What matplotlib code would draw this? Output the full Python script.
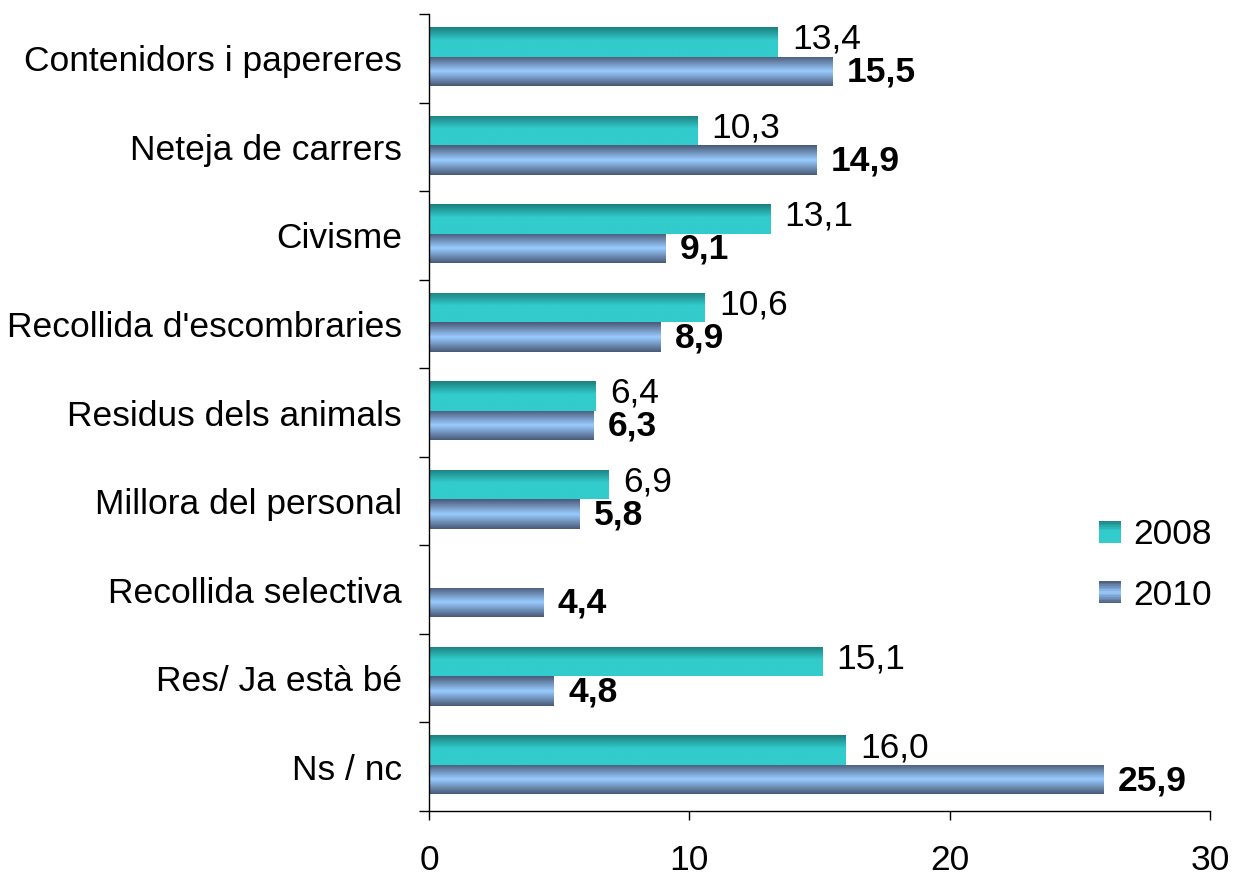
import numpy as np
import matplotlib
matplotlib.use("Agg")
import matplotlib.pyplot as plt
from matplotlib.colors import LinearSegmentedColormap
from matplotlib.patches import Rectangle
from matplotlib.legend_handler import HandlerBase

categories = ["Contenidors i papereres", "Neteja de carrers", "Civisme",
              "Recollida d'escombraries", "Residus dels animals",
              "Millora del personal", "Recollida selectiva",
              "Res/ Ja està bé", "Ns / nc"]
v2008 = [13.4, 10.3, 13.1, 10.6, 6.4, 6.9, None, 15.1, 16.0]
v2010 = [15.5, 14.9, 9.1, 8.9, 6.3, 5.8, 4.4, 4.8, 25.9]
series = ["2008", "2010"]
xticks = [0, 10, 20, 30]

plt.rcParams['font.family'] = ['Liberation Sans', 'DejaVu Sans']
FS = 25.5

fig = plt.figure(figsize=(12.34, 8.75), dpi=100)
ax = fig.add_axes([429 / 1234, 1 - 811 / 875, (1210 - 429) / 1234, (811 - 14) / 875])

cm08 = LinearSegmentedColormap.from_list("c08", [(0, "#1d7f7f"), (0.45, "#33cccc"), (1, "#33cccc")])
cm10 = LinearSegmentedColormap.from_list("c10", [(0, "#4a5a78"), (0.5, "#99ccff"), (1, "#4a5a78")])
grad = np.linspace(0, 1, 64).reshape(-1, 1)

n = len(categories)
h = 0.333
shift = -0.02
ax.set_xlim(0, 30)
ax.set_ylim(n - 0.5, -0.5)


def gbar(y, w, cmap):
    r = Rectangle((0, y), w, h, facecolor='none', edgecolor='none')
    ax.add_patch(r)
    im = ax.imshow(grad, cmap=cmap, aspect='auto', extent=(0, w, y + h, y),
                   origin='upper', zorder=2, interpolation='bilinear')
    im.set_clip_path(r)


for i in range(n):
    if v2008[i] is not None:
        gbar(i - h + shift, v2008[i], cm08)
        ax.text(v2008[i] + 0.55, i - h / 2 + shift - 0.03, f"{v2008[i]:.1f}".replace('.', ','),
                va='center', ha='left', fontsize=FS)
    gbar(i + shift, v2010[i], cm10)
    ax.text(v2010[i] + 0.55, i + h / 2 + shift + 0.01, f"{v2010[i]:.1f}".replace('.', ','),
            va='center', ha='left', fontsize=FS, fontweight='bold')

ax.set_xlim(0, 30)
ax.set_ylim(n - 0.5, -0.5)
ax.set_aspect('auto')

ax.set_yticks(range(n))
ax.set_yticklabels(categories, fontsize=FS)
ax.set_yticks(np.arange(-0.5, n, 1), minor=True)
ax.tick_params(axis='y', which='major', length=0, pad=19.5)
ax.tick_params(axis='y', which='minor', length=7, width=1, direction='out')
ax.set_xticks(xticks)
ax.set_xticklabels([str(t) for t in xticks], fontsize=FS)
ax.tick_params(axis='x', length=6.5, width=1, direction='out', pad=17)
for s in ['top', 'right']:
    ax.spines[s].set_visible(False)
for s in ['left', 'bottom']:
    ax.spines[s].set_linewidth(1)


class GradHandler(HandlerBase):
    def __init__(self, cmap):
        super().__init__()
        self.cmap = cmap

    def create_artists(self, legend, orig_handle, xdescent, ydescent, width, height, fontsize, trans):
        arts = []
        k = 14
        s = height
        x0 = -xdescent + (width - s) / 2
        for j in range(k):
            c = self.cmap(1 - (j + 0.5) / k)
            r = Rectangle((x0, -ydescent + j * s / k), s, s / k + 0.05,
                          facecolor=c, edgecolor='none', transform=trans)
            arts.append(r)
        return arts


h1 = Rectangle((0, 0), 1, 1)
h2 = Rectangle((0, 0), 1, 1)
leg = fig.legend([h1, h2], series, loc='center left', bbox_to_anchor=(1100 / 1234, 1 - 565 / 875),
                 frameon=False, fontsize=FS, handlelength=0.58, handleheight=0.58,
                 handletextpad=0.37, labelspacing=0.78, borderpad=0, borderaxespad=0,
                 handler_map={h1: GradHandler(cm08), h2: GradHandler(cm10)})

fig.savefig("out.png", dpi=100)
